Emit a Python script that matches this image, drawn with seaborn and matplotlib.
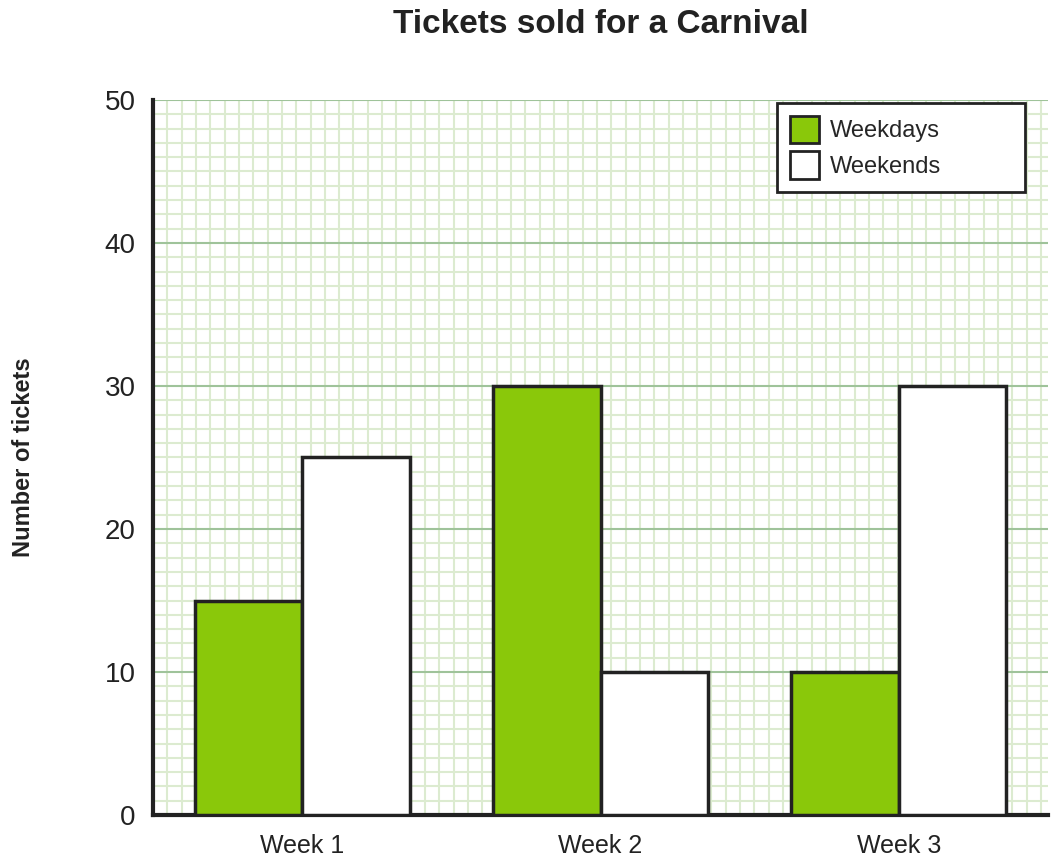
import numpy as np
import pandas as pd
import seaborn as sns
import matplotlib.pyplot as plt
from matplotlib.ticker import MultipleLocator, FixedLocator

# Chart data
weeks = ["Week 1", "Week 2", "Week 3"]
weekdays = [15, 30, 10]
weekends = [25, 10, 30]

df = pd.DataFrame({
    "week": weeks * 2,
    "tickets": weekdays + weekends,
    "type": ["Weekdays"] * 3 + ["Weekends"] * 3,
})

sns.set_style("white")
plt.rcParams["font.family"] = ["Liberation Sans", "DejaVu Sans"]

fig = plt.figure(figsize=(10.59, 8.65), dpi=100)
ax = fig.add_axes([0.1445, 0.0578, 0.8451, 0.8266])

sns.barplot(data=df, x="week", y="tickets", hue="type",
            palette={"Weekdays": "#8ac80a", "Weekends": "#ffffff"},
            saturation=1, width=0.72, edgecolor="#222222", linewidth=2.5,
            ax=ax, zorder=3)

ax.set_xlim(-0.5, 2.5)
ax.set_ylim(0, 50)

# graph paper grid
ax.yaxis.set_major_locator(MultipleLocator(10))
ax.yaxis.set_minor_locator(MultipleLocator(1))
ax.xaxis.set_minor_locator(FixedLocator(np.arange(-0.5, 2.5, 0.048)))
ax.grid(which="minor", color="#dcebd0", linewidth=1.5, zorder=0)
ax.grid(which="major", axis="y", color="#9fc39a", linewidth=1.5, zorder=1)
ax.set_axisbelow(True)
ax.tick_params(which="both", length=0)
ax.tick_params(axis="y", labelsize=20, pad=12.5, labelcolor="#222222")
ax.tick_params(axis="x", labelsize=18, pad=14, labelcolor="#222222")

for s in ["top", "right"]:
    ax.spines[s].set_visible(False)
for s in ["left", "bottom"]:
    ax.spines[s].set_color("#222222")
    ax.spines[s].set_linewidth(3)

ax.set_xlabel("")
ax.set_ylabel("Number of tickets", fontsize=17, fontweight="bold",
              color="#222222", labelpad=50)
ax.set_title("Tickets sold for a Carnival", fontsize=24, fontweight="bold",
             color="#222222", pad=48)

leg = ax.legend(loc="upper left", bbox_to_anchor=(0.6972, 0, 0.2771, 0.996),
                mode="expand", fontsize=17, frameon=True, fancybox=False,
                edgecolor="#222222", framealpha=1, borderpad=0.55,
                handlelength=1.23, handleheight=1.4, labelspacing=0.35,
                handletextpad=0.45, borderaxespad=0)
leg.get_frame().set_linewidth(2)
for h in leg.legend_handles:
    h.set_edgecolor("#222222")
    h.set_linewidth(2)

plt.savefig("out.png", dpi=100)
